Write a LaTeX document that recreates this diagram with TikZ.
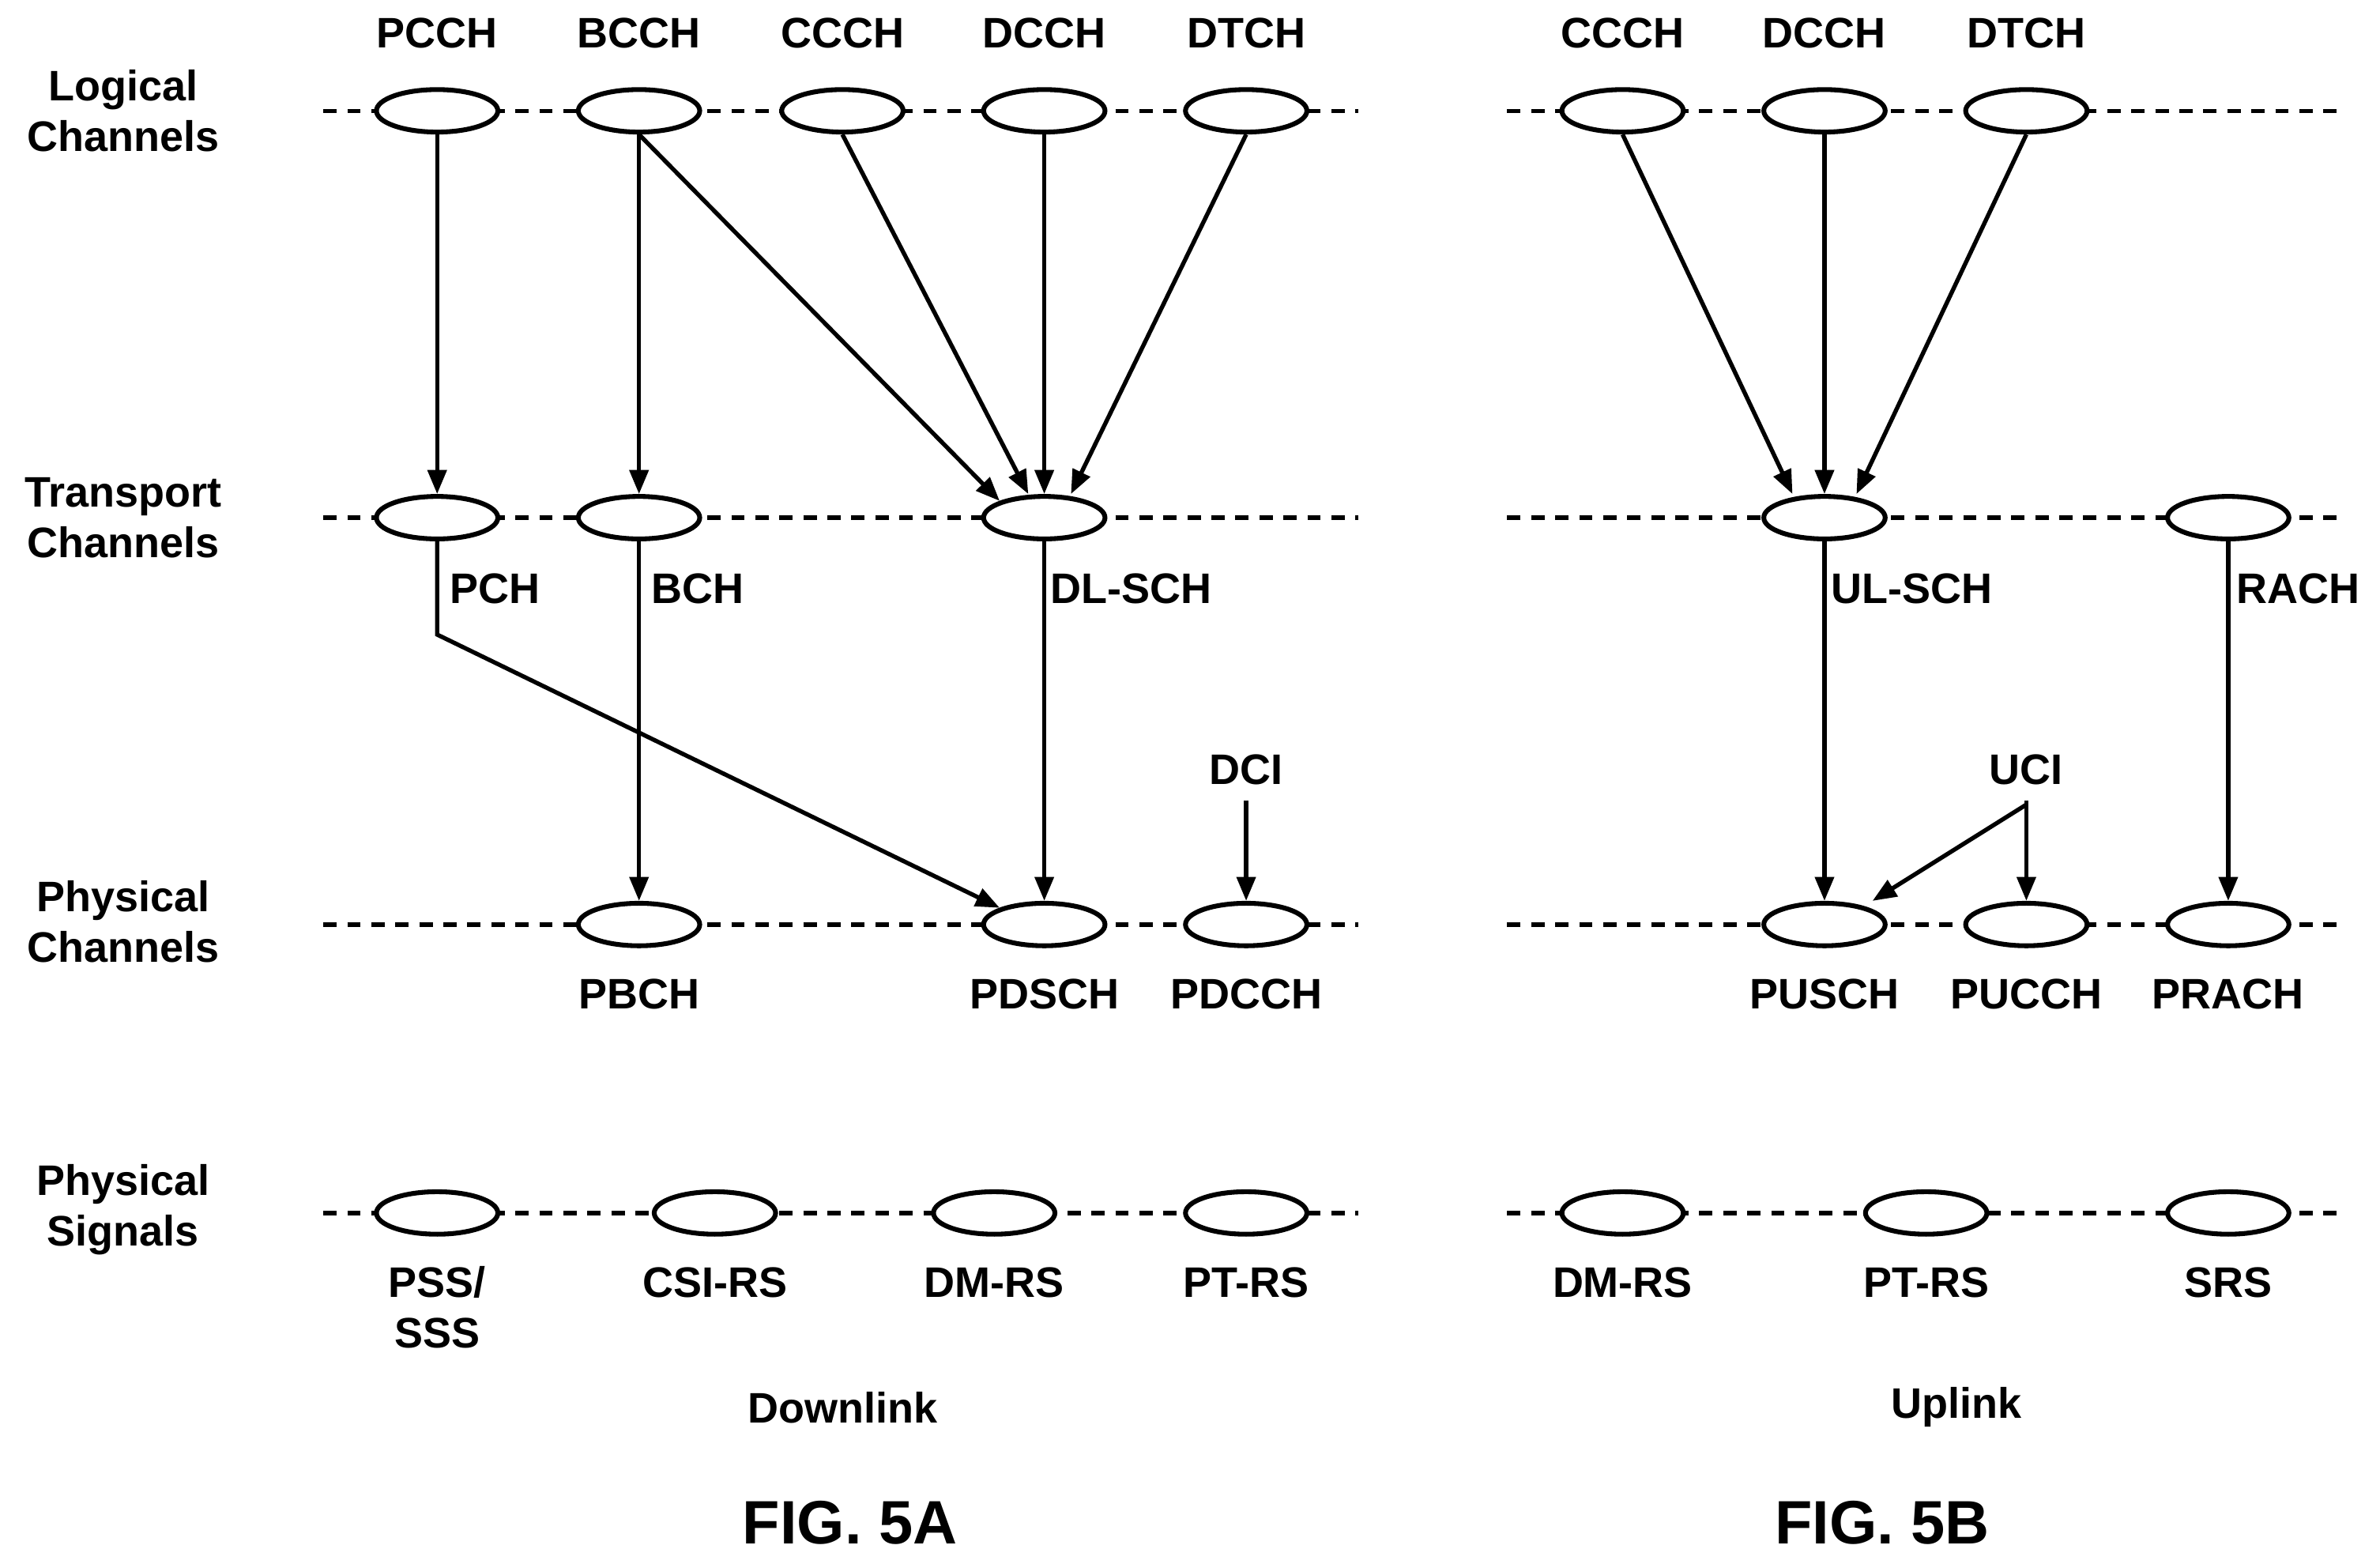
\documentclass[tikz,border=0pt]{standalone}
\usepackage{fontspec}
\setmainfont{Liberation Sans}
\usetikzlibrary{arrows.meta}
\begin{document}
\begin{tikzpicture}[x=0.02cm,y=-0.02cm,
  ch/.style={draw,line width=1.8pt,fill=white,ellipse,minimum width=1.6cm,minimum height=0.56cm,inner sep=0pt},
  lbl/.style={font=\fontsize{16}{19}\selectfont\bfseries,align=center,inner sep=0pt},
  big/.style={font=\fontsize{23}{27}\selectfont\bfseries,inner sep=0pt},
  dl/.style={line width=1.6pt,dash pattern=on 5pt off 4pt},
  ar/.style={line width=1.6pt,-{Triangle[length=9pt,width=7pt]}},
  ln/.style={line width=1.6pt}]
\useasboundingbox (0,0) rectangle (1568,1030);
\usetikzlibrary{shapes.geometric}
% dashed rows
\foreach \y in {73,341,609,799}{
  \draw[dl] (213,\y) -- (895,\y);
  \draw[dl] (993,\y) -- (1545,\y);}
% left labels
\node[lbl] (Ll) at (81,73) {Logical\\Channels};
\node[lbl] (Lt) at (81,341) {Transport\\Channels};
\node[lbl] (Lp) at (81,607) {Physical\\Channels};
\node[lbl] (Ls) at (81,797) {Physical\\Signals};
% downlink logical
\foreach \n/\x in {PCCH/288,BCCH/421,CCCH/555,DCCH/688,DTCH/821}{
  \node[ch] (d\n) at (\x,73) {};
  \node[lbl] (t\n) at (\x,22) {\n};}
% downlink transport
\node[ch] (dPCH) at (288,341) {};
\node[ch] (dBCH) at (421,341) {};
\node[ch] (dDLSCH) at (688,341) {};
\node[lbl,anchor=west] (tPCH) at (296,388) {PCH};
\node[lbl,anchor=west] (tBCH) at (429,388) {BCH};
\node[lbl,anchor=west] (tDLSCH) at (692,388) {DL-SCH};
% downlink physical
\node[ch] (dPBCH) at (421,609) {};
\node[ch] (dPDSCH) at (688,609) {};
\node[ch] (dPDCCH) at (821,609) {};
\node[lbl] (tPBCH) at (421,655) {PBCH};
\node[lbl] (tPDSCH) at (688,655) {PDSCH};
\node[lbl] (tPDCCH) at (821,655) {PDCCH};
\node[lbl] (tDCI) at (821,507) {DCI};
% downlink signals
\node[ch] (dPSS) at (288,799) {};
\node[ch] (dCSI) at (471,799) {};
\node[ch] (dDMRS) at (655,799) {};
\node[ch] (dPTRS) at (821,799) {};
\node[lbl,anchor=north] (tPSS) at (288,834) {PSS/\\SSS};
\node[lbl] (tCSI) at (471,845) {CSI-RS};
\node[lbl] (tDMRS) at (655,845) {DM-RS};
\node[lbl] (tPTRS) at (821,845) {PT-RS};
\node[lbl] (tDown) at (555,927) {Downlink};
\node[big] (f5a) at (560,1003) {FIG. 5A};
% uplink
\foreach \n/\x in {CCCH/1069,DCCH/1202,DTCH/1335}{
  \node[ch] (u\n) at (\x,73) {};
  \node[lbl] (s\n) at (\x,22) {\n};}
\node[ch] (uULSCH) at (1202,341) {};
\node[ch] (uRACH) at (1468,341) {};
\node[lbl,anchor=west] (sULSCH) at (1206,388) {UL-SCH};
\node[lbl,anchor=west] (sRACH) at (1473,388) {RACH};
\node[ch] (uPUSCH) at (1202,609) {};
\node[ch] (uPUCCH) at (1335,609) {};
\node[ch] (uPRACH) at (1468,609) {};
\node[lbl] (sPUSCH) at (1202,655) {PUSCH};
\node[lbl] (sPUCCH) at (1335,655) {PUCCH};
\node[lbl] (sPRACH) at (1468,655) {PRACH};
\node[lbl] (sUCI) at (1335,507) {UCI};
\node[ch] (uDMRS) at (1069,799) {};
\node[ch] (uPTRS) at (1269,799) {};
\node[ch] (uSRS) at (1468,799) {};
\node[lbl] (sDMRS) at (1069,845) {DM-RS};
\node[lbl] (sPTRS) at (1269,845) {PT-RS};
\node[lbl] (sSRS) at (1468,845) {SRS};
\node[lbl] (tUp) at (1289,927) {Uplink};
\node[big] (f5b) at (1240,1003) {FIG. 5B};
% downlink arrows
\draw[ar] (dPCCH) -- (dPCH);
\draw[ar] (dBCCH) -- (dBCH);
\draw[ar] (dBCCH.south) -- (dDLSCH.north west);
\draw[ar] (dCCCH.south) -- ([xshift=-6]dDLSCH.north);
\draw[ar] (dDCCH) -- (dDLSCH);
\draw[ar] (dDTCH.south) -- ([xshift=10]dDLSCH.north);
\coordinate (pbend) at (288,418);
\draw[ar] (dPCH.south) -- (pbend) -- (dPDSCH.north west);
\draw[ar] (dBCH) -- (dPBCH);
\draw[ar] (dDLSCH) -- (dPDSCH);
\draw[ar] (tDCI.south) ++(0,10) -- (dPDCCH.north);
% uplink arrows
\draw[ar] (uCCCH.south) -- ([xshift=-12]uULSCH.north);
\draw[ar] (uDCCH) -- (uULSCH);
\draw[ar] (uDTCH.south) -- ([xshift=12]uULSCH.north);
\draw[ar] (uULSCH) -- (uPUSCH);
\draw[ar] (uRACH) -- (uPRACH);
\coordinate (ucij) at (1335,530);
\draw[ln] (sUCI.south) ++(0,10) -- (ucij);
\draw[ar] (ucij) -- ([xshift=18]uPUSCH.north);
\draw[ar] (ucij) -- (uPUCCH.north);
\end{tikzpicture}
\end{document}
